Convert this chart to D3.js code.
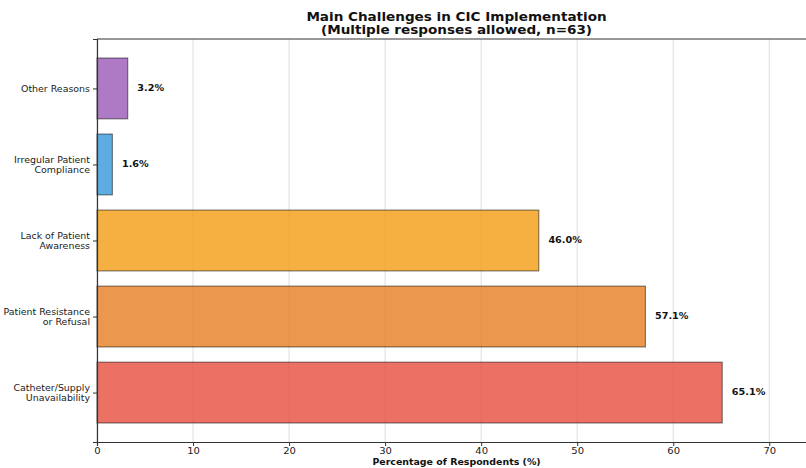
<!DOCTYPE html>
<html>
<head>
<meta charset="utf-8">
<script src="https://cdn.jsdelivr.net/npm/d3@7"></script>
<style>
  html, body { margin: 0; padding: 0; background: #fff; }
  svg { display: block; }
  svg text { font-family: "DejaVu Sans", sans-serif; }
</style>
</head>
<body>
<svg id="chart" width="806" height="468"></svg>
<script>
// Challenges reported (bottom to top)
const categories = [
  ["Catheter/Supply", "Unavailability"],
  ["Patient Resistance", "or Refusal"],
  ["Lack of Patient", "Awareness"],
  ["Irregular Patient", "Compliance"],
  ["Other Reasons"]
];
const percentages = [65.1, 57.1, 46.0, 1.6, 3.2];
const barColors = ["#e74c3c", "#e67e22", "#f39c12", "#3498db", "#9b59b6"];
const xTicks = [0, 10, 20, 30, 40, 50, 60, 70];

// Wide lettering: text is drawn horizontally stretched around its anchor
const TEXT_STRETCH = 1.18;
function stretch(sel) {
  sel.each(function() {
    const t = d3.select(this);
    const x0 = +t.attr("x") || 0;
    const y0 = +t.attr("y") || 0;
    t.attr("x", 0).attr("y", 0)
      .attr("transform", `translate(${x0},${y0}) scale(${TEXT_STRETCH},1)`);
  });
}

const svg = d3.select("#chart");
const margin = { left: 97, top: 39, right: 816, bottom: 442 };

const x = d3.scaleLinear()
  .domain([0, d3.max(percentages) * 1.15])
  .range([margin.left, margin.right]);

// Categories placed at integer positions, bars 0.8 wide
const y = d3.scaleLinear()
  .domain([-0.65, categories.length - 1 + 0.65])
  .range([margin.bottom, margin.top]);
const barH = (y(0) - y(0.8));

// Vertical grid
svg.append("g").selectAll("line")
  .data(xTicks)
  .join("line")
  .attr("x1", d => x(d)).attr("x2", d => x(d))
  .attr("y1", margin.top).attr("y2", margin.bottom)
  .attr("stroke", "#d6d6d6")
  .attr("stroke-width", 0.8);

// Bars (translucent, so the grid shows through)
svg.append("g").selectAll("rect")
  .data(percentages)
  .join("rect")
  .attr("x", x(0))
  .attr("y", (d, i) => y(i) - barH / 2)
  .attr("width", d => x(d) - x(0))
  .attr("height", barH)
  .attr("fill", (d, i) => barColors[i])
  .attr("fill-opacity", 0.8)
  .attr("stroke", "#000")
  .attr("stroke-opacity", 0.5)
  .attr("stroke-width", 1.1);

// Value labels
svg.append("g").selectAll("text")
  .data(percentages)
  .join("text")
  .attr("x", d => x(d + 1))
  .attr("y", (d, i) => y(i))
  .attr("dy", "0.35em")
  .attr("font-size", 8.2)
  .attr("font-weight", "bold")
  .attr("fill", "#111")
  .text(d => d.toFixed(1) + "%")
  .call(stretch);

// X axis
const xAxis = svg.append("g")
  .attr("transform", `translate(0,${margin.bottom})`)
  .call(d3.axisBottom(x).tickValues(xTicks).tickSize(4).tickFormat(d3.format("d")));
xAxis.attr("font-family", null);
xAxis.select(".domain").attr("stroke", "#333").attr("stroke-width", 1.2);
xAxis.selectAll(".tick line").attr("stroke", "#333");
xAxis.selectAll(".tick text")
  .attr("font-size", 8.5).attr("fill", "#222")
  .attr("dy", "0.6em")
  .call(stretch);

// Y axis
const yAxis = svg.append("g")
  .attr("transform", `translate(${margin.left},0)`)
  .call(d3.axisLeft(y).tickValues(d3.range(categories.length)).tickSize(4).tickFormat(""));
yAxis.attr("font-family", null);
yAxis.select(".domain").attr("stroke", "#333").attr("stroke-width", 1.2);
yAxis.selectAll(".tick line").attr("stroke", "#333");
yAxis.selectAll(".tick").each(function(d) {
  const lines = categories[d];
  const t = d3.select(this).append("text")
    .attr("text-anchor", "end")
    .attr("font-size", 8)
    .attr("fill", "#222")
    .attr("transform", `translate(-7,0) scale(${TEXT_STRETCH},1)`);
  lines.forEach((s, k) => {
    t.append("tspan")
      .attr("x", 0)
      .attr("y", (k - (lines.length - 1) / 2) * 10)
      .attr("dy", "0.35em")
      .text(s);
  });
});

// Top spine
svg.append("line")
  .attr("x1", margin.left).attr("x2", margin.right)
  .attr("y1", margin.top).attr("y2", margin.top)
  .attr("stroke", "#333").attr("stroke-width", 1.2);

// Title
const cx = (margin.left + margin.right) / 2;
svg.append("text")
  .attr("x", cx).attr("y", 21)
  .attr("text-anchor", "middle")
  .attr("font-size", 11.5).attr("font-weight", "bold").attr("fill", "#111")
  .text("Main Challenges in CIC Implementation")
  .call(stretch);
svg.append("text")
  .attr("x", cx).attr("y", 34)
  .attr("text-anchor", "middle")
  .attr("font-size", 11.5).attr("font-weight", "bold").attr("fill", "#111")
  .text("(Multiple responses allowed, n=63)")
  .call(stretch);

// X axis label
svg.append("text")
  .attr("x", cx).attr("y", 465)
  .attr("text-anchor", "middle")
  .attr("font-size", 8).attr("font-weight", "bold").attr("fill", "#111")
  .text("Percentage of Respondents (%)")
  .call(stretch);
</script>
</body>
</html>
